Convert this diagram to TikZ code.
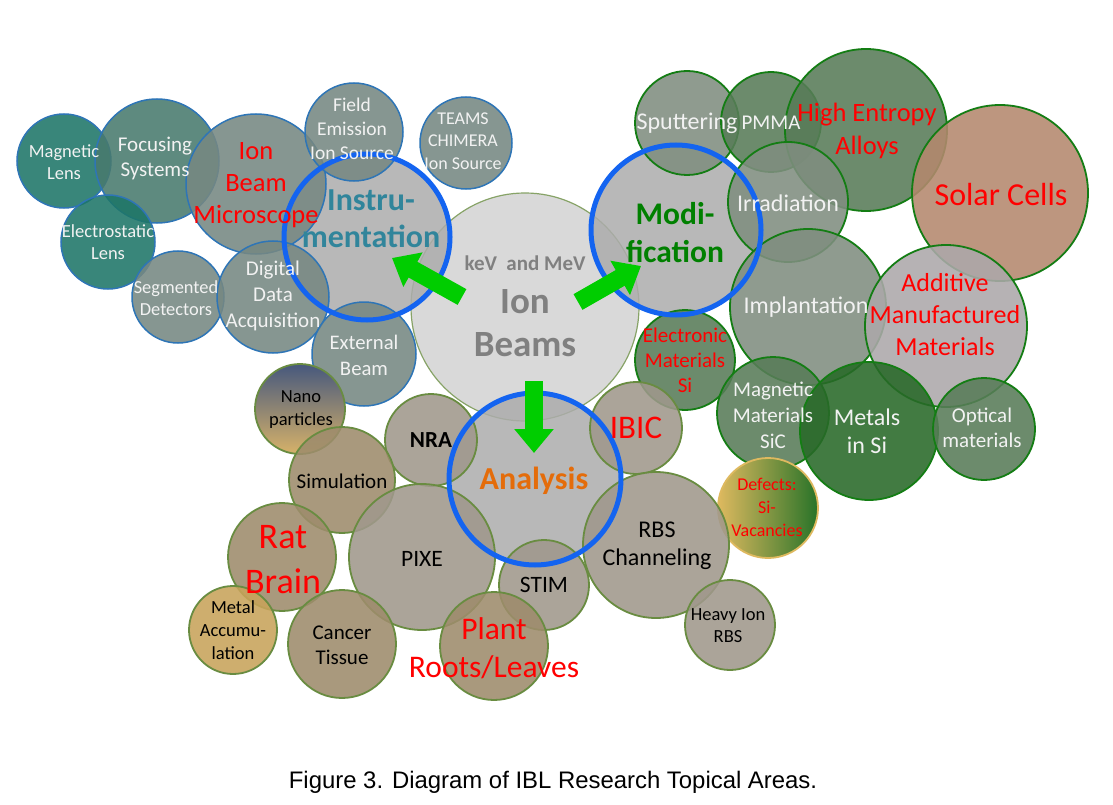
\documentclass[tikz,border=0pt]{standalone}
\usepackage{fontspec}
\setmainfont{Carlito}
\newfontfamily\arialf{Liberation Sans}
\usetikzlibrary{arrows.meta}
\newcommand\myfs[2]{\fontsize{#1}{#2}\selectfont}
\definecolor{insblue}{RGB}{46,117,182}
\definecolor{insteal}{RGB}{30,118,104}
\definecolor{insteal2}{RGB}{72,122,110}
\definecolor{insgrey}{RGB}{118,136,130}
\definecolor{modgreen}{RGB}{20,125,20}
\definecolor{modgrey}{RGB}{128,142,128}
\definecolor{moddark}{RGB}{88,124,88}
\definecolor{metal}{RGB}{40,105,40}
\definecolor{solar}{RGB}{180,136,110}
\definecolor{addit}{RGB}{172,168,170}
\definecolor{anagreen}{RGB}{105,140,65}
\definecolor{anagrey}{RGB}{160,152,140}
\definecolor{anabrown}{RGB}{158,140,108}
\definecolor{metacc}{RGB}{200,163,90}
\definecolor{ringblue}{RGB}{20,100,240}
\definecolor{ringfill}{RGB}{172,172,172}
\definecolor{ibfill}{RGB}{217,217,217}
\definecolor{ibtext}{RGB}{128,128,128}
\definecolor{arrowgreen}{RGB}{0,205,0}
\definecolor{instrtext}{RGB}{49,133,155}
\definecolor{modtext}{RGB}{0,128,0}
\definecolor{anatext}{RGB}{228,108,10}
\definecolor{wtext}{RGB}{242,242,242}
\definecolor{defyel}{RGB}{222,185,95}
\definecolor{defgrn}{RGB}{40,115,40}
\definecolor{nanotop}{RGB}{70,88,125}
\definecolor{nanobot}{RGB}{215,178,105}
\tikzset{
  bub/.style={circle, inner sep=0pt, fill opacity=0.88},
  ins/.style={bub, draw=insblue, line width=1.5pt, fill=insgrey},
  modb/.style={bub, draw=modgreen, line width=1.8pt, fill=modgrey},
  anab/.style={bub, draw=anagreen, line width=1.8pt, fill=anagrey},
  ringf/.style={circle, inner sep=0pt, fill=ringfill, fill opacity=0.85},
  rings/.style={draw=ringblue, line width=5pt},
  garrow/.style={draw=arrowgreen, line width=18pt, -{Triangle[length=24pt,width=38pt]}},
  lw/.style={align=center, text=wtext, inner sep=0pt},
  lr/.style={align=center, text=red, inner sep=0pt},
  lk/.style={align=center, text=black, inner sep=0pt},
}
\begin{document}
\begin{tikzpicture}[x=1pt,y=-1pt]
\fill[white] (0,0) rectangle (1113,805);
\useasboundingbox (0,0) rectangle (1113,805);
% central
\node[circle, inner sep=0pt, minimum size=228pt, fill=ibfill, draw=anagreen!80, line width=1.2pt] (ib) at (525,307) {};
% ring fills
\node[ringf, minimum size=166pt] (instr) at (367,237) {};
\node[ringf, minimum size=170pt] (modif) at (676,230) {};
\node[ringf, minimum size=172pt] (anal) at (535,479) {};
% instrumentation group
\node[ins, fill=insteal, minimum size=94pt] (ml) at (64,161) {};
\node[ins, fill=insteal2, minimum size=124pt] (fs) at (157,161) {};
\node[ins, minimum size=140pt] (ibm) at (256,184) {};
\node[ins, minimum size=98pt] (fe) at (354,132) {};
\node[ins, minimum size=92pt] (teams) at (466,143) {};
\node[ins, fill=insteal, minimum size=94pt] (el) at (108,242) {};
\node[ins, minimum size=92pt] (sd) at (178,297) {};
\node[ins, minimum size=112pt] (dda) at (273,297) {};
\node[ins, minimum size=104pt] (eb) at (364,354) {};
% modification group
\node[modb, minimum size=104pt] (sp) at (687,123) {};
\node[modb, fill=moddark, minimum size=100pt] (pm) at (771,122) {};
\node[modb, fill=moddark, minimum size=162pt] (hea) at (866,130) {};
\node[modb, minimum size=120pt] (irr) at (788,202) {};
\node[modb, minimum size=156pt] (imp) at (808,307) {};
\node[modb, fill=solar, minimum size=176pt] (sc) at (1000,193) {};
\node[modb, fill=addit, minimum size=162pt] (amm) at (946,326) {};
\node[modb, fill=moddark, minimum size=100pt] (emsi) at (685,360) {};
\node[modb, fill=moddark, minimum size=112pt] (mms) at (773,413) {};
\node[modb, fill=metal, minimum size=138pt] (mis) at (869,431) {};
\node[modb, fill=moddark, minimum size=102pt] (opt) at (984,429) {};
\node[circle, inner sep=0pt, draw=defyel, line width=1.8pt, left color=defyel, right color=defgrn, minimum size=100pt] (def) at (768,508) {};
% analysis group
\node[circle, inner sep=0pt, draw=anagreen, line width=1.8pt, top color=nanotop, bottom color=nanobot, minimum size=90pt] (nano) at (300,409) {};
\node[anab, minimum size=92pt] (nra) at (431,440) {};
\node[anab, minimum size=92pt] (ibic) at (636,428) {};
\node[anab, fill=anabrown, minimum size=106pt] (sim) at (342,480) {};
\node[anab, fill=anabrown, minimum size=108pt] (rat) at (282,557) {};
\node[anab, minimum size=146pt] (pixe) at (422,557) {};
\node[anab, fill=metacc, minimum size=88pt] (ma) at (233,630) {};
\node[anab, fill=anabrown, minimum size=108pt] (ct) at (342,644) {};
\node[anab, minimum size=90pt] (stim) at (544,585) {};
\node[anab, fill=anabrown, minimum size=108pt] (plant) at (494,646) {};
\node[anab, minimum size=146pt] (rbs) at (656,545) {};
\node[anab, minimum size=90pt] (hirbs) at (730,625) {};
% rings
\draw[rings] (instr.center) circle (83pt);
\draw[rings] (modif.center) circle (85pt);
\draw[rings] (anal.center) circle (86pt);
% arrows
\coordinate (a1s) at (462,297);
\coordinate (a1e) at (392,258);
\coordinate (a2s) at (578,302);
\coordinate (a2e) at (641,266);
\coordinate (a3s) at (534,381);
\coordinate (a3e) at (534,453);
\draw[garrow] (a1s) -- (a1e);
\draw[garrow] (a2s) -- (a2e);
\draw[garrow] (a3s) -- (a3e);
% texts: instrumentation
\node[lw, font=\myfs{18.5}{22}] at (64,162) {Magnetic\\Lens};
\node[lw, font=\myfs{21}{25}] at (155,158) {Focusing\\Systems};
\node[lr, font=\myfs{26.5}{32}] at (256,185) {Ion\\Beam\\Microscope};
\node[lw, font=\myfs{19.5}{24}] at (352,129) {Field\\Emission\\Ion Source};
\node[lw, font=\myfs{18}{22.5}] at (463,141) {TEAMS\\CHIMERA\\Ion Source};
\node[lw, font=\myfs{18.5}{22}] at (108,242) {Electrostatic\\Lens};
\node[lw, font=\myfs{18.4}{22}] at (176,298) {Segmented\\Detectors};
\node[lw, font=\myfs{21}{26}] at (273,296) {Digital\\Data\\Acquisition};
\node[lw, font=\myfs{20.7}{26}] at (364,355) {External\\Beam};
\node[align=center, inner sep=0pt, text=instrtext, font=\bfseries\myfs{32}{37}] at (371,219) {Instru-\\mentation};
% texts: centre
\node[text=ibtext, inner sep=0pt, font=\bfseries\myfs{21}{25}] at (525,263) {keV\ \ and MeV};
\node[text=ibtext, inner sep=0pt, font=\bfseries\myfs{37}{44}] at (525,302) {Ion};
\node[text=ibtext, inner sep=0pt, font=\bfseries\myfs{37}{44}] at (525,345) {Beams};
% texts: modification
\node[align=center, inner sep=0pt, text=modtext, font=\bfseries\myfs{31.5}{38}] at (675,233) {Modi-\\fication};
\node[lw, font=\myfs{24}{28}] at (687,123) {Sputtering};
\node[lw, font=\myfs{21}{25}] at (771,123) {PMMA};
\node[lr, font=\myfs{26.5}{33}] at (867,131) {High Entropy\\Alloys};
\node[lr, font=\myfs{32}{38}] at (1001,195) {Solar Cells};
\node[lw, font=\myfs{24}{28}] at (788,203) {Irradiation};
\node[lw, font=\myfs{24}{28}] at (806,307) {Implantation};
\node[lr, font=\myfs{26}{32}] at (945,315) {Additive\\Manufactured\\Materials};
\node[lr, font=\myfs{21}{25}] at (685,360) {Electronic\\Materials\\Si};
\node[lw, font=\myfs{21}{26}] at (773,415) {Magnetic\\Materials\\SiC};
\node[lw, font=\myfs{24}{28}] at (867,431) {Metals\\in Si};
\node[lw, font=\myfs{21}{25}] at (982,428) {Optical\\materials};
\node[lr, font=\myfs{18}{23}] at (767,507) {Defects:\\Si-\\Vacancies};
% texts: analysis
\node[lr, font=\myfs{33}{38}] at (636,428) {IBIC};
\node[lk, font=\bfseries\myfs{23}{27}] at (431,440) {NRA};
\node[align=center, inner sep=0pt, text=anatext, font=\bfseries\myfs{32}{38}] at (534,481) {Analysis};
\node[lk, font=\myfs{18.5}{23}] at (301,410) {Nano\\particles};
\node[lk, font=\myfs{21}{25}] at (342,481) {Simulation};
\node[lk, font=\myfs{23.5}{28}] at (422,559) {PIXE};
\node[lr, font=\myfs{36}{45}] at (283,560) {Rat\\Brain};
\node[lk, font=\myfs{18.5}{23}] at (233,630) {Metal\\Accumu-\\lation};
\node[lk, font=\myfs{21}{25}] at (342,645) {Cancer\\Tissue};
\node[lr, font=\myfs{31.5}{38}] at (494,648) {Plant\\Roots/Leaves};
\node[lk, font=\myfs{23.5}{28}] at (544,585) {STIM};
\node[lk, font=\myfs{24}{28}] at (657,546) {RBS\\Channeling};
\node[lk, font=\myfs{18.5}{22}] at (728,626) {Heavy Ion\\RBS};
% caption
\node[inner sep=0pt, font=\arialf\myfs{23.9}{28}] (cap) at (553,782) {Figure 3. Diagram of IBL Research Topical Areas.};
\end{tikzpicture}
\end{document}
